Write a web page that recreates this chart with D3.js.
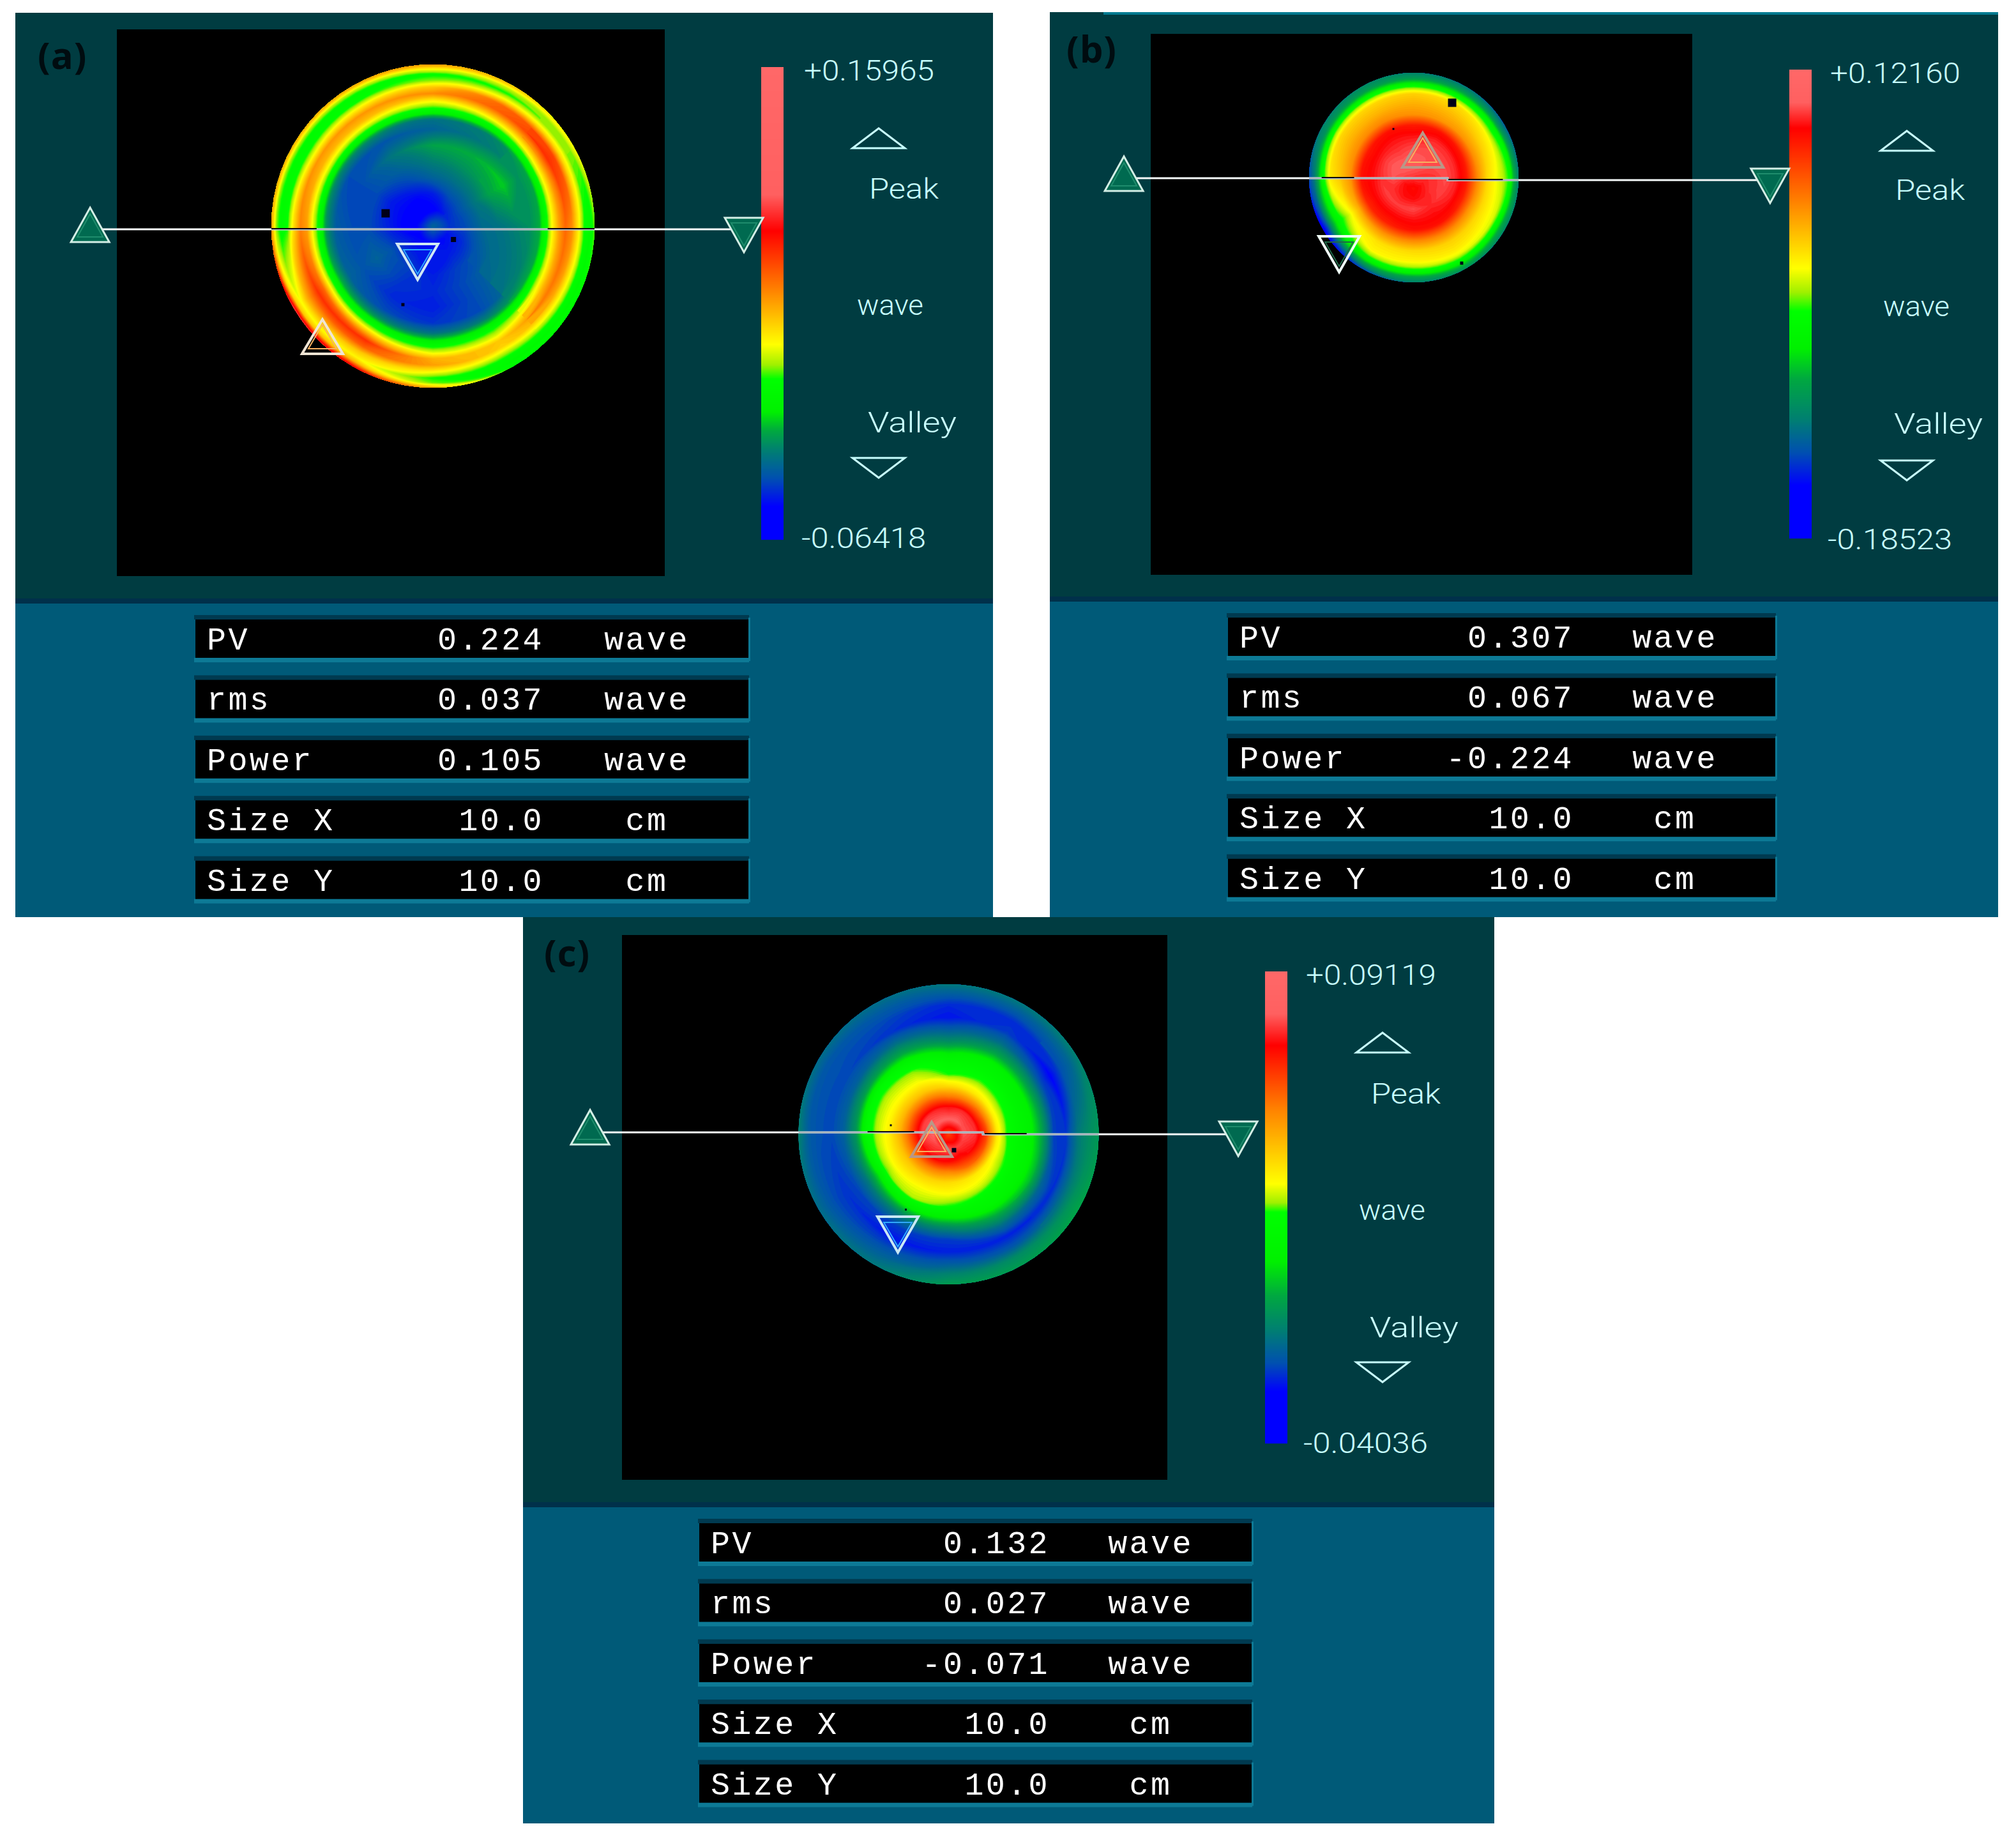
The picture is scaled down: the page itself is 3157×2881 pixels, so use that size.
<!DOCTYPE html>
<html>
<head>
<meta charset="utf-8">
<script src="https://cdnjs.cloudflare.com/ajax/libs/d3/7.8.5/d3.min.js"></script>
<style>
  body { margin: 0; background: #fff; }
  svg { display: block; }
</style>
</head>
<body>
<svg width="3157" height="2881"></svg>
<script>
// table rows
var rowLabels = ["PV", "rms", "Power", "Size X", "Size Y"];
var rowUnits = ["wave", "wave", "wave", "cm", "cm"];
var tableA = ["0.224", "0.037", "0.105", "10.0", "10.0"];
var tableB = ["0.307", "0.067", "-0.224", "10.0", "10.0"];
var tableC = ["0.132", "0.027", "-0.071", "10.0", "10.0"];

// colour bar ends, wave
var rangeA = [0.15965, -0.06418];
var rangeB = [0.12160, -0.18523];
var rangeC = [0.09119, -0.04036];
var labelsA = ["+0.15965", "-0.06418"];
var labelsB = ["+0.12160", "-0.18523"];
var labelsC = ["+0.09119", "-0.04036"];

// colour bar: where each colour sits, as a fraction from the top of the bar
var barColors = ["#ff6868", "#ff6060", "#ff0000", "#ff8000", "#ffff00", "#a0f000", "#00ff00", "#00f000", "#00a840", "#008070", "#0050b0", "#0000ff", "#0000ff"];
var barStopsA = [0, .27, .347, .47, .587, .63, .66, .73, .77, .81, .87, .93, 1];
var barStopsB = [0, .07, .125, .28, .424, .475, .515, .595, .66, .745, .816, .887, 1];
var barStopsC = [0, .09, .157, .29, .45, .49, .51, .615, .687, .758, .83, .89, 1];

// surface height in wave: one row per 30 degrees clockwise from east, one column per radius
var radiiA = [0, .1, .2, .3, .4, .5, .6, .66, .7, .74, .78, .82, .86, .9, .94, .97, 1];
var surfaceA = [
  [-.030,-.040,-.036,-.028,-.026,-.022,-.018,-.012,.008,.030,.048,.060,.052,.032,.010,.006,.016],
  [-.030,-.046,-.042,-.034,-.028,-.026,-.022,-.014,.006,.026,.044,.056,.046,.028,.010,.006,.012],
  [-.030,-.048,-.044,-.038,-.036,-.036,-.036,-.022,-.004,.012,.024,.040,.038,.022,.008,.006,.012],
  [-.030,-.046,-.044,-.044,-.042,-.044,-.040,-.026,-.008,.008,.024,.044,.048,.030,.012,.016,.045],
  [-.030,-.048,-.044,-.038,-.040,-.042,-.036,-.018,.002,.020,.046,.072,.062,.040,.030,.045,.085],
  [-.030,-.050,-.042,-.034,-.030,-.034,-.030,-.012,.006,.030,.060,.072,.058,.044,.028,.040,.095],
  [-.030,-.048,-.048,-.042,-.036,-.036,-.032,-.018,.006,.024,.048,.054,.036,.012,.008,.018,.048],
  [-.030,-.052,-.048,-.044,-.036,-.036,-.036,-.020,.004,.026,.044,.050,.028,.010,.008,.020,.046],
  [-.030,-.052,-.048,-.038,-.030,-.024,-.034,-.020,.002,.022,.042,.050,.032,.012,.008,.022,.048],
  [-.030,-.050,-.044,-.030,-.022,-.014,-.030,-.026,-.002,.016,.032,.052,.040,.018,.010,.028,.050],
  [-.030,-.046,-.036,-.026,-.018,-.012,-.024,-.022,.000,.020,.042,.062,.060,.030,.012,.022,.042],
  [-.030,-.042,-.034,-.024,-.014,-.008,-.018,-.014,.006,.030,.052,.072,.068,.036,.018,.018,.030]
];

var radiiB = [0, .1, .2, .3, .4, .5, .6, .7, .8, .85, .9, .95, 1];
var surfaceB = [
  [.092,.090,.092,.097,.090,.075,.035,.005,-.012,-.020,-.034,-.075,-.105],
  [.092,.088,.092,.094,.088,.072,.030,.005,-.008,-.014,-.045,-.080,-.100],
  [.092,.084,.088,.090,.085,.078,.035,.008,-.002,-.012,-.038,-.070,-.095],
  [.092,.080,.084,.096,.086,.078,.034,.005,-.006,-.020,-.050,-.085,-.105],
  [.092,.082,.086,.094,.084,.072,.030,.002,-.006,-.025,-.055,-.090,-.130],
  [.092,.086,.090,.094,.084,.070,.020,-.012,-.040,-.060,-.085,-.130,-.160],
  [.092,.095,.098,.092,.084,.078,.030,.012,-.002,-.032,-.070,-.110,-.130],
  [.092,.098,.100,.094,.084,.075,.032,.018,.006,-.020,-.060,-.095,-.105],
  [.092,.100,.098,.092,.086,.078,.034,.018,.006,-.020,-.060,-.090,-.100],
  [.092,.100,.100,.094,.086,.074,.030,.020,.008,-.022,-.060,-.090,-.105],
  [.092,.098,.098,.096,.090,.078,.028,.016,.004,-.024,-.060,-.090,-.110],
  [.092,.094,.096,.096,.090,.075,.030,.010,-.006,-.030,-.055,-.095,-.120]
];

var radiiC = [0, .1, .18, .25, .32, .4, .48, .55, .62, .7, .78, .86, .93, 1];
var surfaceC = [
  [.062,.078,.075,.062,.036,.022,.016,.012,.000,-.020,-.021,-.010,-.006,-.003],
  [.062,.076,.072,.058,.034,.026,.018,.014,.004,-.014,-.022,-.012,-.004,.000],
  [.062,.076,.068,.056,.036,.030,.020,.016,.002,-.012,-.023,-.017,-.006,-.002],
  [.062,.078,.070,.052,.038,.032,.024,.012,-.006,-.020,-.023,-.016,-.008,-.002],
  [.062,.076,.072,.054,.040,.032,.028,.012,-.008,-.020,-.024,-.018,-.014,-.010],
  [.062,.078,.072,.056,.042,.034,.025,.006,-.010,-.019,-.021,-.019,-.016,-.012],
  [.062,.080,.076,.060,.045,.034,.028,.018,-.004,-.015,-.019,-.018,-.016,-.008],
  [.062,.080,.076,.060,.044,.033,.028,.020,-.002,-.015,-.019,-.018,-.017,-.012],
  [.062,.080,.074,.058,.042,.032,.026,.016,.000,-.012,-.021,-.019,-.016,-.012],
  [.062,.080,.072,.054,.038,.024,.018,.008,-.006,-.016,-.024,-.022,-.016,-.010],
  [.062,.080,.074,.054,.036,.026,.018,.014,.000,-.012,-.020,-.022,-.016,-.010],
  [.062,.078,.074,.056,.034,.024,.016,.012,-.002,-.018,-.026,-.018,-.014,-.008]
];

// marker places in pupil units, where the disk runs from -1 to 1 on both axes
var peakA = [-.684, .684], valleyA = [-.095, .221];
var peakB = [.085, -.262], valleyB = [-.713, .732];
var peakC = [-.113, .034], valleyC = [-.338, .668];
var scanEndsA = [[-2.122, -.008], [1.925, .055]];
var scanEndsB = [[-2.768, -.037], [3.402, .079]];
var scanEndsC = [[-2.389, -.047], [1.930, .030]];
// the scan line: left height, right height, x of the step between them
var scanA = [.02, .02, 0];
var scanB = [.006, .024, .323];
var scanC = [-.013, 0, .228];
// stretches of the scan line that go dark over the warm rings
var darkA = [[-1, -.72], [.71, 1]];
var darkB = [[-.88, -.57], [.33, .85]];
var darkC = [[-.54, -.23], [.24, .52]];
// bad pixels on the disk: x, y, size in px
var dotsA = [[-.293, -.079, 13], [.127, .083, 8], [-.186, .486, 5]];
var dotsB = [[.366, -.714, 13], [.457, .817, 5], [-.195, -.464, 3]];
var dotsC = [[.036, .106, 7], [-.385, -.06, 3], [-.285, .502, 3]];

var panels = [
  {label: "(a)", labelX: 59, labelY: 108, x: 24, y: 20, w: 1531, split: 945, bottom: 1436, textDx: -2, textDy: 2,
   plot: [183, 46, 858, 856], bar: [1192, 105, 35, 740], table: [306, 970, 867], unitX: 707, valueX: 546,
   cx: 678, cy: 354, r: 253, radii: radiiA, surface: surfaceA, range: rangeA, stops: barStopsA, labels: labelsA, rows: tableA,
   peak: peakA, valley: valleyA, ends: scanEndsA, scan: scanA, dark: darkA, dots: dotsA, peakStroke: "#f0e4d4", valleyStroke: "#d0e8f4", valleyInner: "#30a8ff"},
  {label: "(b)", labelX: 1670, labelY: 98, x: 1644, y: 19, w: 1485, split: 942, bottom: 1436, textDx: -5, textDy: 0,
   plot: [1802, 53, 848, 847], bar: [2802, 109, 35, 734], table: [1923, 967, 858], unitX: 700, valueX: 542,
   cx: 2214, cy: 278, r: 164, radii: radiiB, surface: surfaceB, range: rangeB, stops: barStopsB, labels: labelsB, rows: tableB,
   peak: peakB, valley: valleyB, ends: scanEndsB, scan: scanB, dark: darkB, dots: dotsB, peakStroke: "#b89888", valleyStroke: "#f0fff8", valleyInner: "#206848"},
  {label: "(c)", labelX: 852, labelY: 1513, x: 819, y: 1436, w: 1521, split: 2360, bottom: 2855, textDx: -5, textDy: 3,
   plot: [974, 1464, 854, 853], bar: [1981, 1521, 35, 739], table: [1095, 2385, 866], unitX: 707, valueX: 549,
   cx: 1485.5, cy: 1776, r: 235, radii: radiiC, surface: surfaceC, range: rangeC, stops: barStopsC, labels: labelsC, rows: tableC,
   peak: peakC, valley: valleyC, ends: scanEndsC, scan: scanC, dark: darkC, dots: dotsC, peakStroke: "#b89888", valleyStroke: "#c8e8f4", valleyInner: "#30a8ff"}
];

var svg = d3.select("svg");
var sectors = 12;
var wrap = 1; // extra columns each side so the seam overlaps itself

panels.forEach(drawPanel);

function drawPanel(p) {
  var g = svg.append("g");

  // background blocks
  g.append("rect").attr("x", p.x).attr("y", p.y).attr("width", p.w).attr("height", p.split - p.y).attr("fill", "#003c41");
  g.append("rect").attr("x", p.x).attr("y", p.split).attr("width", p.w).attr("height", p.bottom - p.split).attr("fill", "#005a78");
  g.append("rect").attr("x", p.x).attr("y", p.split - 8).attr("width", p.w).attr("height", 8).attr("fill", "#00304a");
  if (p.label == "(b)") {
    g.append("rect").attr("x", 1728).attr("y", 19).attr("width", 1401).attr("height", 4).attr("fill", "#007a90");
  }

  g.append("rect").attr("x", p.plot[0]).attr("y", p.plot[1]).attr("width", p.plot[2]).attr("height", p.plot[3]).attr("fill", "#000");

  // fraction of the bar -> wave -> colour
  var waveAt = d3.scaleLinear().domain([0, 1]).range(p.range);
  var color = d3.scaleLinear().domain(p.stops.map(waveAt)).range(barColors).clamp(true);

  drawSurface(g, p, color);
  drawBar(g, p, color);
  drawMarkers(g, p);
  drawTable(g, p);

  g.append("text").attr("x", p.labelX).attr("y", p.labelY)
    .attr("font-family", "Open Sans").attr("font-weight", 700).attr("font-size", 58)
    .attr("letter-spacing", 1).attr("fill", "#000c10").text(p.label);
}

function drawSurface(g, p, color) {
  var m = p.radii.length;
  var cols = sectors + 2 * wrap + 1;
  var grid = [];
  for (var j = 0; j < m; j++) {
    for (var c = 0; c < cols; c++) {
      grid.push(p.surface[(c - wrap + sectors) % sectors][j]);
    }
  }

  var lo = d3.min(grid), hi = d3.max(grid);
  var step = (hi - lo) / 110;
  var thresholds = d3.range(110).map(function (i) { return lo + i * step - (i == 0 ? 1 : 0); });
  var layers = d3.contours().size([cols, m]).thresholds(thresholds)(grid);

  var angle = d3.scaleLinear().domain([wrap + .5, wrap + .5 + sectors]).range([0, 2 * Math.PI]);
  var radius = d3.scaleLinear().domain(d3.range(m).map(function (i) { return i + .5; })).range(p.radii).clamp(true);
  var px = d3.scaleLinear().domain([-1, 1]).range([p.cx - p.r, p.cx + p.r]);
  var py = d3.scaleLinear().domain([-1, 1]).range([p.cy - p.r, p.cy + p.r]);
  p.px = px;
  p.py = py;

  var line = d3.line();
  function toScreen(pt) {
    var a = angle(pt[0]), r = radius(pt[1]);
    return [px(r * Math.cos(a)), py(r * Math.sin(a))];
  }
  // contour edges run straight in angle/radius space, so bend them on the way to the screen
  function ringPath(ring) {
    var pts = [];
    for (var i = 0; i < ring.length - 1; i++) {
      for (var k = 0; k < 6; k++) {
        var t = k / 6;
        pts.push(toScreen([ring[i][0] + (ring[i + 1][0] - ring[i][0]) * t, ring[i][1] + (ring[i + 1][1] - ring[i][1]) * t]));
      }
    }
    return line(pts) + "Z";
  }

  g.append("g").selectAll("path")
    .data(layers)
    .enter().append("path")
    .attr("fill", function (d, i) { return color(lo + (i + .5) * step); })
    .attr("d", function (d) {
      return d.coordinates.map(function (poly) { return poly.map(ringPath).join(""); }).join("");
    });

  g.append("g").selectAll("rect")
    .data(p.dots)
    .enter().append("rect")
    .attr("x", function (d) { return px(d[0]) - d[2] / 2; })
    .attr("y", function (d) { return py(d[1]) - d[2] / 2; })
    .attr("width", function (d) { return d[2]; })
    .attr("height", function (d) { return d[2]; })
    .attr("fill", "#000018");
}

function drawBar(g, p, color) {
  var y = d3.scaleLinear().domain(p.range).range([p.bar[1], p.bar[1] + p.bar[3]]);
  var cells = d3.range(p.bar[3]).map(function (i) { return y.invert(p.bar[1] + i + .5); });
  g.append("g").selectAll("rect")
    .data(cells)
    .enter().append("rect")
    .attr("x", p.bar[0])
    .attr("y", function (d) { return y(d) - .5; })
    .attr("width", p.bar[2])
    .attr("height", 1.2)
    .attr("fill", function (d) { return color(d); });

  var bx = p.bar[0], by = p.bar[1];
  var texts = [
    [p.labels[0], 69, 21, 204],
    ["Peak", 171, 204, 109],
    ["wave", 152, 386, 104],
    ["Valley", 169, 570, 139],
    [p.labels[1], 65, 751, 195]
  ];
  g.append("g").selectAll("text")
    .data(texts)
    .enter().append("text")
    .attr("x", function (d) { return bx + d[1] + p.textDx; })
    .attr("y", function (d) { return by + d[2] + (d[2] > 200 ? p.textDy : 0); })
    .attr("textLength", function (d) { return d[3]; })
    .attr("lengthAdjust", "spacingAndGlyphs")
    .attr("font-family", "Roboto").attr("font-weight", 300).attr("font-size", 44)
    .attr("fill", "#c8ffff")
    .text(function (d) { return d[0]; });

  // legend triangles
  g.append("path")
    .attr("d", "M" + (bx + 143) + "," + (by + 127) + "L" + (bx + 184) + "," + (by + 96) + "L" + (bx + 225) + "," + (by + 127) + "Z")
    .attr("fill", "none").attr("stroke", "#c8ffff").attr("stroke-width", 3);
  g.append("path")
    .attr("d", "M" + (bx + 143) + "," + (by + 612) + "L" + (bx + 184) + "," + (by + 643) + "L" + (bx + 225) + "," + (by + 612) + "Z")
    .attr("fill", "none").attr("stroke", "#c8ffff").attr("stroke-width", 3);
}

// dir -1 points up, 1 points down; centred on (x, y)
function triangle(x, y, dir, w, h) {
  return "M" + (x - w) + "," + (y - dir * h) + "L" + (x + w) + "," + (y - dir * h) + "L" + x + "," + (y + dir * h) + "Z";
}

function drawMarkers(g, p) {
  var px = p.px, py = p.py;
  var left = p.ends[0], right = p.ends[1];
  var scan = p.scan;
  var yL = py(scan[0]), yR = py(scan[1]), xStep = px(scan[2]);

  var scanPath = d3.line()([[px(left[0]), yL], [xStep, yL], [xStep, yR], [px(right[0]), yR]]);
  g.append("path").attr("d", scanPath).attr("fill", "none").attr("stroke", "#f4f8f8").attr("stroke-width", 3);

  // over the disk the line goes grey, and dark where it crosses the warm rings
  var inDisk = d3.line()([[px(-1), yL], [xStep, yL], [xStep, yR], [px(1), yR]]);
  g.append("path").attr("d", inDisk).attr("fill", "none").attr("stroke", "#a8b4bc").attr("stroke-width", 3);
  p.dark.forEach(function (d) {
    var y = d[1] <= scan[2] ? yL : yR;
    g.append("line").attr("x1", px(d[0])).attr("x2", px(d[1])).attr("y1", y - 1).attr("y2", y - 1)
      .attr("stroke", "#100c08").attr("stroke-width", 2);
  });

  // line end triangles, filled
  [[left, -1], [right, 1]].forEach(function (t) {
    var x = px(t[0][0]), y = py(t[0][1]);
    g.append("path").attr("d", triangle(x, y, t[1], 30, 27))
      .attr("fill", "#006a50").attr("stroke", "#d4eee6").attr("stroke-width", 3);
    g.append("path").attr("d", triangle(x, y - t[1] * 1, t[1], 20, 18))
      .attr("fill", "none").attr("stroke", "#1f8c6c").attr("stroke-width", 2);
  });

  // peak and valley triangles, see-through
  g.append("path").attr("d", triangle(px(p.peak[0]), py(p.peak[1]), -1, 32, 27))
    .attr("fill", "none").attr("stroke", p.peakStroke).attr("stroke-width", 4);
  g.append("path").attr("d", triangle(px(p.peak[0]), py(p.peak[1]), -1, 22, 19))
    .attr("fill", "none").attr("stroke", "#f8b060").attr("stroke-width", 2);
  g.append("path").attr("d", triangle(px(p.valley[0]), py(p.valley[1]), 1, 32, 28))
    .attr("fill", "none").attr("stroke", p.valleyStroke).attr("stroke-width", 4);
  g.append("path").attr("d", triangle(px(p.valley[0]), py(p.valley[1]), 1, 22, 19))
    .attr("fill", "none").attr("stroke", p.valleyInner).attr("stroke-width", 2);
}

function drawTable(g, p) {
  var left = p.table[0], top = p.table[1], width = p.table[2];
  var rowY = d3.scaleBand().domain(rowLabels).range([top, top + 5 * 94.4]);

  var rows = g.append("g").selectAll("g")
    .data(rowLabels)
    .enter().append("g")
    .attr("transform", function (d) { return "translate(" + left + "," + rowY(d) + ")"; });

  rows.append("rect").attr("x", -2).attr("y", -7).attr("width", width + 2).attr("height", 7).attr("fill", "#003a50");
  rows.append("rect").attr("x", -2).attr("y", 60).attr("width", width + 2).attr("height", 7).attr("fill", "#0d7a96");
  rows.append("rect").attr("x", width - 1).attr("y", -3).attr("width", 3).attr("height", 68).attr("fill", "#0d7a96");
  rows.append("rect").attr("width", width - 1).attr("height", 60).attr("fill", "#000");

  function cell(sel) {
    return sel.attr("y", 47)
      .attr("font-family", "Liberation Mono").attr("font-size", 50)
      .attr("letter-spacing", 3.4).attr("fill", "#fff");
  }
  cell(rows.append("text")).attr("x", 18).text(function (d) { return d; });
  cell(rows.append("text")).attr("x", p.valueX).attr("text-anchor", "end")
    .text(function (d, i) { return p.rows[i]; });
  cell(rows.append("text")).attr("x", p.unitX).attr("text-anchor", "middle")
    .text(function (d, i) { return rowUnits[i]; });
}
</script>
</body>
</html>
